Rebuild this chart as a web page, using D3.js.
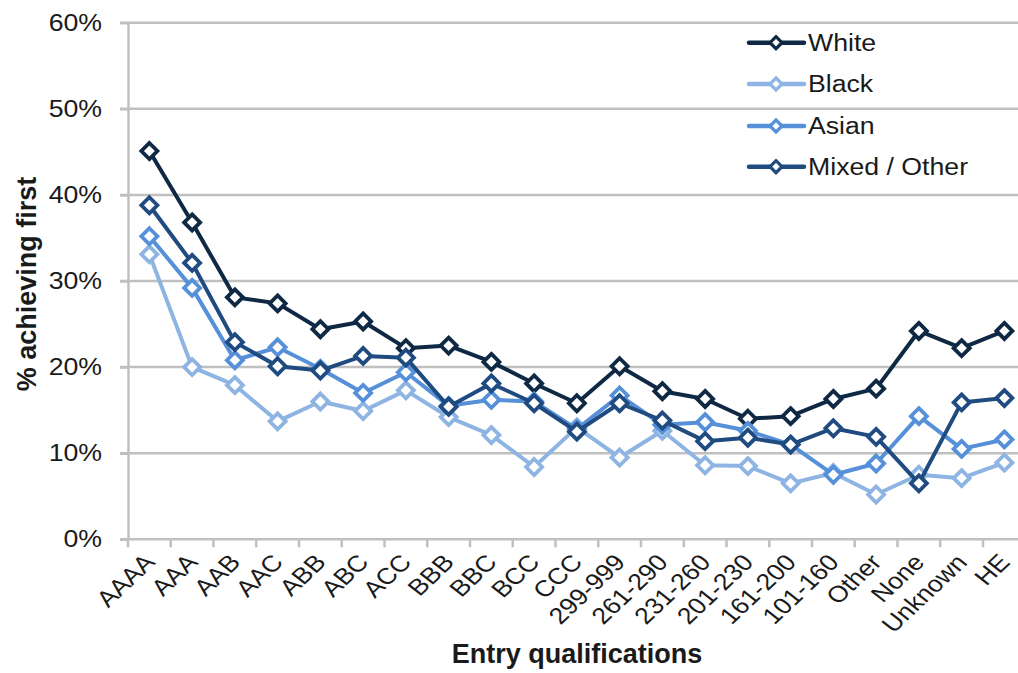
<!DOCTYPE html>
<html>
<head>
<meta charset="utf-8">
<script src="https://cdn.jsdelivr.net/npm/d3@7/dist/d3.min.js"></script>
<style>
  html, body { margin: 0; padding: 0; background: #fff; }
  svg { display: block; font-family: "Liberation Sans", Arial, sans-serif; }
</style>
</head>
<body>
<svg id="chart" width="1018" height="673"></svg>
<script>
const categories = ["AAAA","AAA","AAB","AAC","ABB","ABC","ACC","BBB","BBC","BCC","CCC","299-999","261-290","231-260","201-230","161-200","101-160","Other","None","Unknown","HE"];
const seriesNames = ["White","Black","Asian","Mixed / Other"];
const white = [45.1,36.8,28.1,27.4,24.4,25.3,22.2,22.5,20.6,18.1,15.8,20.1,17.2,16.3,14.0,14.3,16.3,17.5,24.2,22.2,24.2];
const black = [33.1,20.0,17.9,13.7,16.0,14.9,17.3,14.2,12.1,8.4,13.0,9.5,12.6,8.6,8.5,6.5,7.7,5.2,7.5,7.1,8.9];
const asian = [35.2,29.2,20.8,22.3,19.8,17.0,19.4,15.5,16.2,16.0,12.8,16.7,13.3,13.6,12.6,11.0,7.5,8.8,14.3,10.5,11.6];
const mixed = [38.8,32.1,22.9,20.1,19.6,21.3,21.1,15.4,18.1,15.8,12.5,15.8,13.8,11.4,11.8,11.0,12.9,11.9,6.5,15.9,16.4];
const yTicks = [0,10,20,30,40,50,60];
const colors = ["#0f2843","#8db4e2","#5590d8","#1f4b80"];

(function () {
const svg = d3.select("#chart");
const mLeft = 128, mTop = 22.7, mBottom = 539.3, bw = 42.75;
const sx = 1.16;
const x = d3.scaleBand().domain(categories).range([mLeft, mLeft + bw * categories.length]).padding(0);
const y = d3.scaleLinear().domain([0, 60]).range([mBottom, mTop]);
const gridColor = "#c0c0c0";
const textColor = "#1a1a1a";

// gridlines
svg.append("g").selectAll("line").data(yTicks.filter(d => d > 0)).join("line")
  .attr("x1", mLeft - 8).attr("x2", 1030)
  .attr("y1", d => y(d)).attr("y2", d => y(d))
  .attr("stroke", gridColor).attr("stroke-width", 2.5);

// y axis
const yAxis = svg.append("g").attr("transform", `translate(${mLeft},0)`)
  .call(d3.axisLeft(y).tickValues(yTicks).tickFormat(d => d + "%").tickSize(8).tickSizeOuter(0).tickPadding(18));
yAxis.select(".domain").attr("stroke", gridColor).attr("stroke-width", 2.5);
yAxis.selectAll(".tick line").attr("stroke", gridColor).attr("stroke-width", 2.5);
yAxis.selectAll(".tick text")
  .attr("x", -26 / sx).attr("transform", `scale(${sx},1)`)
  .attr("font-size", 23).attr("fill", textColor)
  .attr("font-family", "Liberation Sans, Arial, sans-serif");

// x axis
const xAxis = svg.append("g").attr("transform", `translate(0,${mBottom})`)
  .call(d3.axisBottom(x).tickSize(0).tickSizeOuter(0).tickFormat(""));
xAxis.select(".domain").attr("stroke", gridColor).attr("stroke-width", 2.5)
  .attr("d", `M${mLeft - 8},0H1030`);
xAxis.selectAll(".tick").remove();
xAxis.selectAll("line.bt").data(categories.concat(["__end"])).join("line")
  .attr("class", "bt")
  .attr("x1", (d, i) => mLeft + i * x.bandwidth()).attr("x2", (d, i) => mLeft + i * x.bandwidth())
  .attr("y1", 0).attr("y2", 8).attr("stroke", gridColor).attr("stroke-width", 2.5);
xAxis.selectAll("text.lbl").data(categories).join("text")
  .attr("class", "lbl")
  .attr("transform", d => `translate(${x(d) + x.bandwidth() / 2 + 7},${24}) scale(${sx},1) rotate(-47.5)`)
  .attr("text-anchor", "end")
  .attr("font-size", 23).attr("fill", textColor)
  .attr("font-family", "Liberation Sans, Arial, sans-serif")
  .text(d => d);

// titles
svg.append("text").attr("transform", "translate(36,284) rotate(-90)")
  .attr("text-anchor", "middle").attr("font-size", 27).attr("font-weight", "bold").attr("fill", textColor)
  .text("% achieving first");
svg.append("text").attr("x", 577).attr("y", 663)
  .attr("text-anchor", "middle").attr("font-size", 27).attr("font-weight", "bold").attr("fill", textColor)
  .text("Entry qualifications");

// series
const data = [white, black, asian, mixed];
const diamond = (cx, cy, r) => `M${cx},${cy - r}L${cx + r},${cy}L${cx},${cy + r}L${cx - r},${cy}Z`;
const line = d3.line().x((d, i) => x(categories[i]) + x.bandwidth() / 2).y(d => y(d));
data.forEach((vals, si) => {
  const g = svg.append("g");
  g.append("path").attr("d", line(vals)).attr("fill", "none")
    .attr("stroke", colors[si]).attr("stroke-width", 4).attr("stroke-linejoin", "round");
  g.selectAll("path.m").data(vals).join("path").attr("class", "m")
    .attr("d", (d, i) => diamond(x(categories[i]) + x.bandwidth() / 2, y(d), 8))
    .attr("fill", "#fff").attr("stroke", colors[si]).attr("stroke-width", 3.8);
});

// legend
const legY = [42.7, 84, 126, 166.7];
const lg = svg.append("g");
seriesNames.forEach((name, i) => {
  lg.append("line").attr("x1", 749).attr("x2", 804).attr("y1", legY[i]).attr("y2", legY[i])
    .attr("stroke", colors[i]).attr("stroke-width", 4.5).attr("stroke-linecap", "round");
  lg.append("path").attr("d", diamond(776, legY[i], 6)).attr("fill", "#fff")
    .attr("stroke", colors[i]).attr("stroke-width", 3.2);
  lg.append("text").attr("transform", `translate(808,${legY[i]}) scale(${sx},1)`).attr("dy", "0.36em")
    .attr("font-size", 23).attr("fill", textColor).text(name);
});
})();
</script>
</body>
</html>
